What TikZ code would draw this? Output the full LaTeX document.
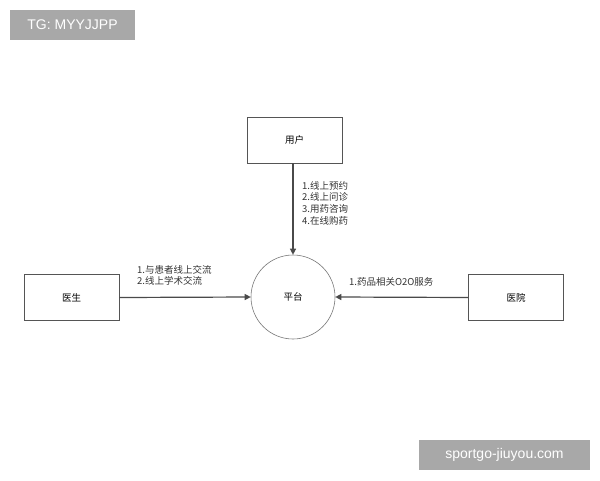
\documentclass[tikz,border=0pt]{standalone}
\usepackage{fontspec}
\setmainfont{Noto Sans CJK SC}
\newfontfamily\latinsans{Liberation Sans}
\usetikzlibrary{arrows.meta}
\definecolor{boxline}{HTML}{555555}
\definecolor{arrowc}{HTML}{4A4A4A}
\definecolor{wm}{HTML}{A8A8A8}
\tikzset{
  entity/.style={draw=boxline, line width=0.7pt, minimum width=95pt, minimum height=46pt, inner sep=0pt, font=\fontsize{9.5}{11}\selectfont},
  hub/.style={draw=boxline!80, line width=0.6pt, circle, minimum size=84pt, inner sep=0pt, font=\fontsize{9.5}{11}\selectfont},
  flow/.style={draw=arrowc, line width=1.2pt, -{Triangle[length=6pt,width=6pt]}},
  lbl/.style={font=\fontsize{9.5}{11.7}\selectfont, text=black!80, align=left, inner sep=0pt},
  wmark/.style={fill=wm, text=white, inner sep=0pt, font=\latinsans\fontsize{14}{16}\selectfont}
}
\begin{document}
\begin{tikzpicture}[x=1pt,y=-1pt]
\useasboundingbox[fill=white] (0,0) rectangle (600,480);
\node[wmark, minimum width=125pt, minimum height=30pt] (tg) at (72.5,25) {TG: MYYJJPP};
\node[wmark, minimum width=171pt, minimum height=30pt] (sg) at (504.5,455) {sportgo-jiuyou.com};
\node[entity] (user) at (294.5,140) {用户};
\node[entity] (doc) at (71.5,297.5) {医生};
\node[entity] (hosp) at (516,297.5) {医院};
\node[hub] (plat) at (293,297) {平台};
\draw[flow] (user.south -| plat.north) -- (plat.north);
\draw[flow] (doc.east) -- (plat.west);
\draw[flow] (hosp.west) -- (plat.east);
\node[lbl, anchor=north west] (ul) at (302,181) {1.线上预约\\2.线上问诊\\3.用药咨询\\4.在线购药};
\node[lbl, anchor=north west] (dl) at (137,265) {1.与患者线上交流\\2.线上学术交流};
\node[lbl, anchor=north west] (hl) at (349,277) {1.药品相关O2O服务};
\end{tikzpicture}
\end{document}
